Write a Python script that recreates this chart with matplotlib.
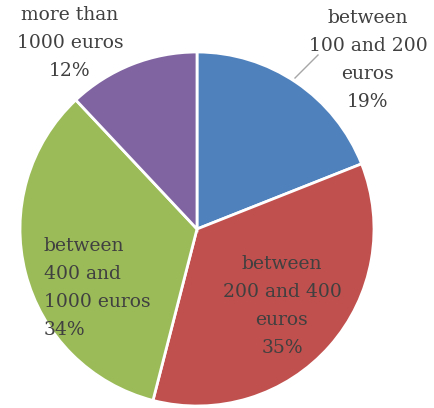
import matplotlib
matplotlib.use("Agg")
import matplotlib.pyplot as plt

categories = ["between\n100 and 200\neuros", "between\n200 and 400\neuros",
              "between\n400 and\n1000 euros", "more than\n1000 euros"]
values = [19, 35, 34, 12]
colors = ["#4F81BD", "#C0504D", "#9BBB59", "#8064A2"]

W, H = 435, 408
fig = plt.figure(figsize=(W / 100, H / 100), dpi=100)
ax = fig.add_axes([0, 0, 1, 1])

cx, cy, r = 197, H - 229, 177
ax.pie(values, colors=colors, startangle=90, counterclock=False,
       center=(cx, cy), radius=r, frame=True,
       wedgeprops=dict(edgecolor="white", linewidth=2))
ax.set_xlim(0, W)
ax.set_ylim(0, H)
ax.set_aspect("equal")
ax.axis("off")

# label positions (pixels, top-left origin) and alignment
pos = [(368, 60, "center"), (282, 306, "center"), (44, 288, "left"), (70, 43, "center")]
font = dict(family="DejaVu Serif", fontsize=13.5, color="#404040", linespacing=1.7)
for cat, v, (x, y, ha) in zip(categories, values, pos):
    ax.text(x, H - y, f"{cat}\n{v}%", ha=ha, va="center", multialignment=ha, **font)

# leader line for the first label
ax.plot([295, 318], [H - 78, H - 55], color="#A6A6A6", lw=1)

fig.savefig("out.png", dpi=100)
